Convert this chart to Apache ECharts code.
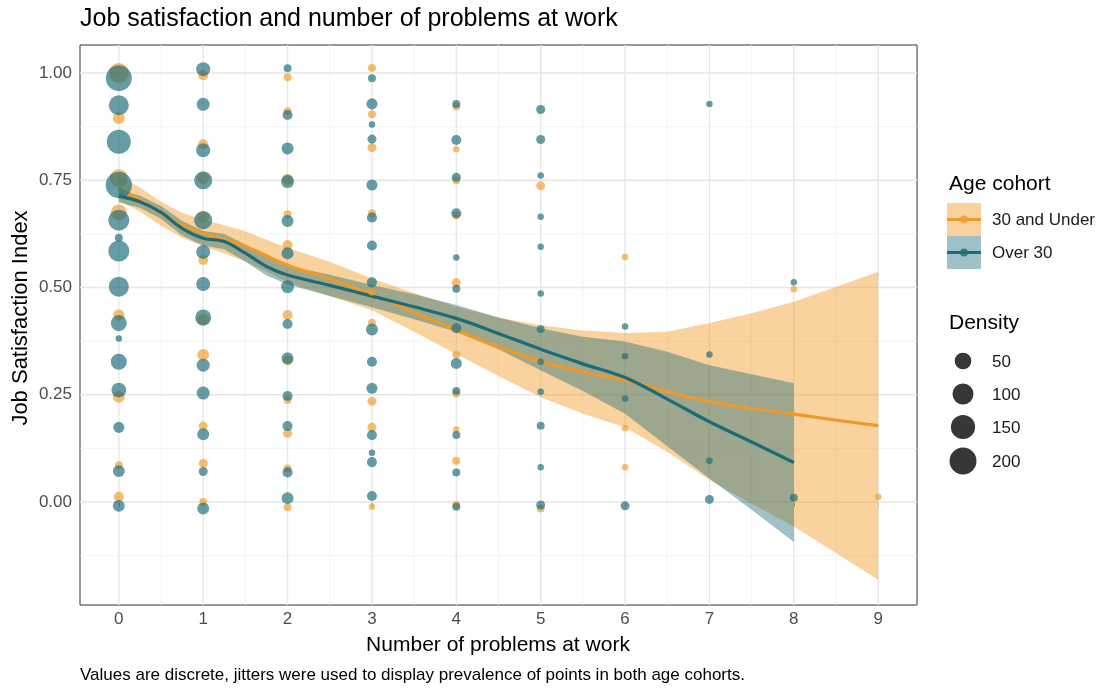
<!DOCTYPE html>
<html><head><meta charset="utf-8">
<script src="https://cdn.jsdelivr.net/npm/echarts@6/dist/echarts.min.js"></script>
<style>html,body{margin:0;padding:0;background:#fff}#chart{width:1099px;height:688px}</style>
</head><body><div id="chart"></div>
<script>
// ---- axis ticks / grid values ----
const xTicks = [0,1,2,3,4,5,6,7,8,9];
const xMinor = [0.5,1.5,2.5,3.5,4.5,5.5,6.5,7.5,8.5];
const yTicks = [0,0.25,0.5,0.75,1];
const yMinor = [-0.125,0.125,0.375,0.625,0.875];

// ---- 30 and Under (jittered points) ----
const youngX = [0,0,0,0,0,0,0,0,
  1,1,1,1,1,1,1,1,1,1,
  2,2,2,2,2,2,2,2,2,2,2,
  3,3,3,3,3,3,3,3,3,
  4,4,4,4,4,4,4,4,4,4,
  5,5, 6,6,6, 8, 9];
const youngY = [1.00,0.895,0.755,0.675,0.436,0.245,0.086,0.012,
  0.995,0.834,0.755,0.665,0.564,0.425,0.343,0.177,0.090,0.000,
  0.990,0.911,0.752,0.671,0.599,0.436,0.330,0.238,0.160,0.078,-0.012,
  1.012,0.904,0.826,0.673,0.490,0.418,0.235,0.174,-0.011,
  0.922,0.822,0.750,0.668,0.511,0.343,0.253,0.169,0.096,-0.007,
  0.737,-0.015, 0.571,0.172,0.081, 0.496, 0.012];
const youngDensity = [87,15,64,44,11,15,2,7,
  7,7,15,15,7,15,15,4,4,2,
  2,2,11,2,7,7,7,2,4,2,2,
  2,2,4,2,2,2,4,4,1,
  2,1,2,2,4,2,2,1,2,2,
  4,2, 1,1,1, 1, 1];

// ---- Over 30 (jittered points) ----
const olderX = [0,0,0,0,0,0,0,0,0,0,0,0,0,0,0,
  1,1,1,1,1,1,1,1,1,1,1,1,1,
  2,2,2,2,2,2,2,2,2,2,2,2,2,
  3,3,3,3,3,3,3,3,3,3,3,3,3,3,3,
  4,4,4,4,4,4,4,4,4,4,4,4,
  5,5,5,5,5,5,5,5,5,5,5,5,
  6,6,6,6, 7,7,7,7, 8,8];
const olderY = [0.988,0.925,0.840,0.739,0.657,0.616,0.585,0.502,0.417,0.381,0.327,0.261,0.174,0.072,-0.009,
  1.009,0.927,0.820,0.750,0.657,0.583,0.508,0.430,0.319,0.254,0.158,0.071,-0.015,
  1.011,0.902,0.824,0.747,0.655,0.580,0.502,0.415,0.335,0.247,0.177,0.069,0.009,
  0.988,0.928,0.880,0.846,0.739,0.663,0.598,0.512,0.402,0.327,0.265,0.156,0.115,0.093,0.014,
  0.928,0.844,0.757,0.673,0.570,0.497,0.405,0.323,0.259,0.156,0.069,-0.011,
  0.915,0.845,0.761,0.665,0.595,0.486,0.403,0.327,0.257,0.178,0.081,-0.007,
  0.409,0.340,0.241,-0.009, 0.928,0.344,0.096,0.006, 0.512,0.010];
const olderDensity = [180,87,146,187,101,2,101,87,44,1,44,33,11,15,15,
  28,21,28,64,64,28,28,44,21,21,15,4,15,
  2,7,15,21,15,15,21,7,15,7,7,7,15,
  2,11,1,4,11,7,7,7,15,7,11,7,1,7,7,
  2,7,4,7,1,2,7,11,2,2,2,2,
  4,4,1,1,1,1,2,1,1,2,1,4,
  1,1,1,4, 1,1,1,4, 1,2];

// ---- smoothed fits with confidence band ----
const youngFitX  = [0,0.25,0.5,0.75,1,1.25,1.5,2,2.5,3,3.5,4,4.5,5,5.5,6,6.5,7,7.5,8,8.5,9];
const youngFitY  = [0.731,0.705,0.672,0.645,0.627,0.612,0.596,0.552,0.520,0.484,0.442,0.400,0.362,0.328,0.303,0.284,0.257,0.234,0.218,0.205,0.191,0.178];
const youngFitHi = [0.760,0.733,0.700,0.674,0.658,0.645,0.631,0.592,0.560,0.521,0.487,0.455,0.430,0.412,0.400,0.394,0.397,0.417,0.440,0.467,0.501,0.537];
const youngFitLo = [0.702,0.677,0.644,0.616,0.596,0.579,0.561,0.512,0.480,0.447,0.397,0.345,0.294,0.244,0.206,0.174,0.117,0.051,-0.004,-0.057,-0.119,-0.181];

const olderFitX  = [0,0.25,0.5,0.75,1,1.25,1.5,1.75,2,2.5,3,3.5,4,4.5,5,5.5,6,6.5,7,7.5,8];
const olderFitY  = [0.713,0.700,0.675,0.638,0.615,0.607,0.580,0.549,0.529,0.505,0.480,0.455,0.428,0.393,0.356,0.322,0.290,0.240,0.187,0.140,0.092];
const olderFitHi = [0.728,0.714,0.690,0.655,0.632,0.625,0.600,0.570,0.551,0.530,0.506,0.484,0.459,0.430,0.405,0.385,0.374,0.350,0.319,0.298,0.277];
const olderFitLo = [0.698,0.686,0.660,0.621,0.598,0.589,0.560,0.528,0.507,0.480,0.454,0.426,0.397,0.356,0.307,0.259,0.206,0.130,0.055,-0.018,-0.093];

const densityLegend = [50,100,150,200];
const cohortNames = ['30 and Under','Over 30'];

// ---- styling ----
const FONT = 'Liberation Sans, Arial, Helvetica, sans-serif';
const ORANGE = '#EE9A2A', TEAL = '#1B6B78';
const ORANGE_PT = 'rgba(240,158,44,0.85)', TEAL_PT = 'rgba(30,110,124,0.85)';
const ORANGE_RIB = 'rgba(242,156,40,0.45)', TEAL_RIB = 'rgba(28,108,122,0.42)';
function sizeOf(v){ return 6.5 + 21.5*Math.sqrt(Math.max(0,v-1)/219); }

function pts(xs, ys, ds){ return xs.map((x,i)=>[x, ys[i], ds[i]]); }
function ribbon(xs, lo, hi, color){
  return {
    type:'custom', silent:true, z:2,
    data:[[xs[0], hi[0]]],
    renderItem:(params, api)=>{
      const up = xs.map((x,i)=>api.coord([x, hi[i]]));
      const dn = xs.map((x,i)=>api.coord([x, lo[i]])).reverse();
      return {type:'polygon', shape:{points: up.concat(dn)}, style:{fill:color}};
    }
  };
}

const chart = echarts.init(document.getElementById('chart'), null, {renderer:'canvas'});
const option = {
  animation:false,
  backgroundColor:'#fff',
  grid:{left:80, right:182, top:45, bottom:83, show:true, borderColor:'#333', borderWidth:1, backgroundColor:'transparent'},
  xAxis:{type:'value', min:-0.46, max:9.46,
    axisLine:{show:false},
    axisTick:{show:true, length:5, lineStyle:{color:'#333'}, customValues:xTicks},
    axisLabel:{customValues:xTicks, color:'#4D4D4D', fontSize:17, fontFamily:FONT, margin:6},
    splitLine:{show:false}},
  yAxis:{type:'value', min:-0.2401, max:1.0653,
    axisLine:{show:false},
    axisTick:{show:true, length:5, lineStyle:{color:'#333'}, customValues:yTicks},
    axisLabel:{customValues:yTicks, color:'#4D4D4D', fontSize:17, fontFamily:FONT, margin:8,
      formatter:v=>v.toFixed(2)},
    splitLine:{show:false}},
  series:[
    { // panel grid lines
      type:'custom', silent:true, z:1, data:[[0,0]],
      renderItem:(params, api)=>{
        const cs = params.coordSys, ch = [];
        const vx = (v,w,c)=>{const p=api.coord([v,0]); ch.push({type:'line',shape:{x1:p[0],y1:cs.y,x2:p[0],y2:cs.y+cs.height},style:{stroke:c,lineWidth:w}});};
        const hy = (v,w,c)=>{const p=api.coord([0,v]); ch.push({type:'line',shape:{x1:cs.x,y1:p[1],x2:cs.x+cs.width,y2:p[1]},style:{stroke:c,lineWidth:w}});};
        xMinor.forEach(v=>vx(v,0.8,'#F0F0F0')); yMinor.forEach(v=>hy(v,0.8,'#F0F0F0'));
        xTicks.forEach(v=>vx(v,1.3,'#E6E6E6')); yTicks.forEach(v=>hy(v,1.3,'#E6E6E6'));
        return {type:'group', children:ch};
      }
    },
    {name:cohortNames[0], type:'scatter', z:2, data:pts(youngX,youngY,youngDensity),
      symbolSize:v=>sizeOf(v[2]), itemStyle:{color:ORANGE_PT}},
    {name:cohortNames[1], type:'scatter', z:2, data:pts(olderX,olderY,olderDensity),
      symbolSize:v=>sizeOf(v[2]), itemStyle:{color:TEAL_PT}},
    ribbon(youngFitX, youngFitLo, youngFitHi, ORANGE_RIB),
    {type:'line', z:2, data:youngFitX.map((x,i)=>[x,youngFitY[i]]), smooth:0.35, showSymbol:false, symbol:'none',
      lineStyle:{color:ORANGE, width:3.2}},
    ribbon(olderFitX, olderFitLo, olderFitHi, TEAL_RIB),
    {type:'line', z:2, data:olderFitX.map((x,i)=>[x,olderFitY[i]]), smooth:0.35, showSymbol:false, symbol:'none',
      lineStyle:{color:TEAL, width:3.2}}
  ],
  graphic:[]
};

const g = option.graphic;
const txt = (x,y,s,size,color,align,extra)=>Object.assign({type:'text', x, y, silent:true,
  style:{text:s, fontSize:size, fontFamily:FONT, fill:color, align:align||'left', verticalAlign:'middle'}}, extra||{});
g.push(txt(80,19,'Job satisfaction and number of problems at work',25,'#000'));
g.push(txt(498,645,'Number of problems at work',21,'#000','center'));
g.push(txt(21,318,'Job Satisfaction Index',22,'#000','center',{rotation:Math.PI/2}));
g.push(txt(80,675,'Values are discrete, jitters were used to display prevalence of points in both age cohorts.',17,'#000'));
// legend: Age cohort
g.push(txt(949,184,'Age cohort',21,'#000'));
[[ORANGE_RIB,ORANGE,ORANGE_PT,203],[TEAL_RIB,TEAL,TEAL_PT,236]].forEach((k,i)=>{
  const y0 = k[3];
  g.push({type:'rect', silent:true, shape:{x:947,y:y0,width:34,height:33}, style:{fill:k[0]}});
  g.push({type:'line', silent:true, shape:{x1:947,y1:y0+16.5,x2:981,y2:y0+16.5}, style:{stroke:k[1],lineWidth:3}});
  g.push({type:'circle', silent:true, shape:{cx:964,cy:y0+16.5,r:4}, style:{fill:k[2]}});
  g.push(txt(992,y0+17.5,cohortNames[i],17,'#1A1A1A'));
});
// legend: Density
g.push(txt(949,323,'Density',21,'#000'));
const dy = [361,394,427,461];
densityLegend.forEach((v,i)=>{
  g.push({type:'circle', silent:true, shape:{cx:963,cy:dy[i],r:sizeOf(v)/2}, style:{fill:'rgba(20,20,20,0.85)'}});
  g.push(txt(992,dy[i]+1,String(v),17,'#1A1A1A'));
});

chart.setOption(option);
</script></body></html>
